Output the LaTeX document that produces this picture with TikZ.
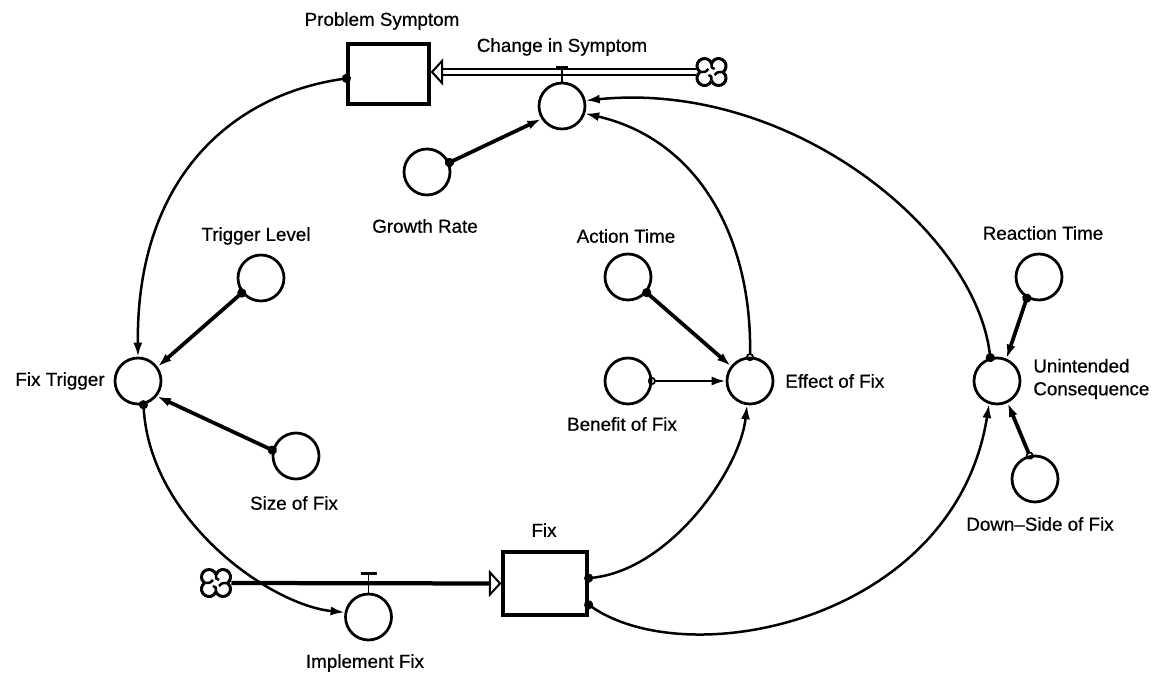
\documentclass[tikz,border=0pt]{standalone}
\usepackage{fontspec}
\setmainfont{Liberation Sans}[FakeBold=0.6]
\usetikzlibrary{arrows.meta}

\tikzset{
  head/.tip={Latex[length=0.28cm,width=0.18cm]},
  ball/.tip={Circle[length=0.18cm]},
  ring/.tip={Circle[open,length=0.16cm,line width=0.035cm]},
  stock/.style={draw,line width=0.065cm,minimum width=1.62cm,minimum height=1.2cm,inner sep=0},
  conv/.style={draw,circle,line width=0.055cm,minimum size=0.92cm,inner sep=0},
  lab/.style={font=\fontsize{10.7}{13}\selectfont,inner sep=0,align=left},
  link/.style={line width=0.05cm,arrows={ball-head},shorten <=-0.09cm},
  strong/.style={link,line width=0.075cm},
  olink/.style={link,arrows={ring-head}},
  flowtip/.tip={Triangle[fill=white,length=0.25cm,width=0.54cm,line width=0.04cm]},
  cloud/.pic={
    \node[inner sep=0,minimum width=0.6cm,minimum height=0.52cm] (-c) {};
    \draw[line width=0.06cm] (0,8.7) arc[start angle=159,end angle=-53,radius=7.5]
      arc[start angle=53,end angle=-159,radius=7.5]
      arc[start angle=-21,end angle=-233,radius=7.5]
      arc[start angle=233,end angle=21,radius=7.5];
    \draw[line width=0.05cm] (0,8.7) .. controls (0,4) .. (-3,3)
      (11.5,0) .. controls (6,0) .. (3,3)
      (0,-8.7) .. controls (0,-4) .. (3,-3)
      (-11.5,0) .. controls (-6,0) .. (-3,-3);
  }
}

\begin{document}
\begin{tikzpicture}[x=0.02cm,y=-0.02cm]
\useasboundingbox (0,0) rectangle (1156,675);

\node[stock] (ps) at (388.5,74) {};
\node[stock,minimum width=1.68cm,minimum height=1.26cm] (fix) at (545,583.5) {};
\pic (cR) at (711.5,72) {cloud};
\pic (cL) at (216,583) {cloud};

\node[conv] (ft) at (138,381) {};
\node[conv] (tl) at (261,278) {};
\node[conv] (sof) at (296,456) {};
\node[conv] (if) at (368.5,617) {};
\node[conv] (cis) at (562,106) {};
\node[conv] (gr) at (427,172) {};
\node[conv] (at) at (628,277) {};
\node[conv] (bof) at (628,381) {};
\node[conv] (eof) at (750,381) {};
\node[conv] (rt) at (1039,277) {};
\node[conv] (uc) at (997,381) {};
\node[conv] (dof) at (1035,479) {};

\node[lab] (psl) at (382,21) {Problem Symptom};
\node[lab] (cisl) at (562,47) {Change in Symptom};
\node[lab] (grl) at (425,226) {Growth Rate};
\node[lab] (tll) at (256,236) {Trigger Level};
\node[lab] (atl) at (626,236) {Action Time};
\node[lab] (ftl) at (60,381) {Fix Trigger};
\node[lab] (sofl) at (294,503) {Size of Fix};
\node[lab] (ifl) at (365,663) {Implement Fix};
\node[lab] (fixl) at (544,530) {Fix};
\node[lab] (bofl) at (622,424) {Benefit of Fix};
\node[lab,anchor=west] (eofl) at (785,381) {Effect of Fix};
\node[lab] (rtl) at (1043,233) {Reaction Time};
\node[lab,anchor=west] (ucl) at (1033,379) {Unintended\\Consequence};
\node[lab] (dofl) at (1040,524) {Down–Side of Fix};

\draw[line width=0.04cm,double,double distance=0.07cm,-flowtip] (cR-c.west) -- (cR-c.west -| ps.east);
\draw[line width=0.085cm,-flowtip] (cL-c.east) -- (fix.west);
\draw[line width=0.035cm] (cis.north) -- ++(0,-14) ++(-6,0) edge[line width=0.08cm] ++(12,0);
\draw[line width=0.035cm] (if.north) -- ++(0,-19) ++(-8,0) edge[line width=0.06cm] ++(16,0);

\draw[link] (ps.186) .. controls (230,95) and (136,180) .. (ft.north);
\draw[strong] (tl.218) -- (ft.36);
\draw[strong] (sof.166) -- (ft.321);
\draw[link] (ft.283) .. controls (150,520) and (270,605) .. (if.169);
\draw[strong] (gr.23) -- (cis.212);
\draw[olink] (eof.north) .. controls (752,240) and (700,140) .. (cis.342);
\draw[link] (uc.106) .. controls (975,230) and (790,80) .. (cis.13);
\draw[strong] (at.320) -- (eof.142);
\draw[olink] (bof.east) -- (eof.west);
\draw[link] (fix.7) .. controls (670,570) and (740,470) .. (eof.263);
\draw[link] (fix.334) .. controls (690,675) and (955,620) .. (uc.251);
\draw[strong] (rt.240) -- (uc.67);
\draw[strong,arrows={ring-head}] (dof.103) -- (uc.296);
\end{tikzpicture}
\end{document}
